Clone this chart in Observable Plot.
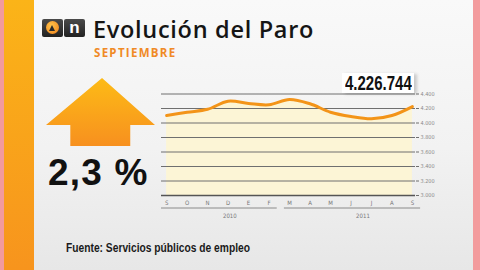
<!DOCTYPE html>
<html>
<head>
<meta charset="utf-8">
<script src="https://cdn.jsdelivr.net/npm/d3@7"></script>
<script src="https://cdn.jsdelivr.net/npm/@observablehq/plot@0.6"></script>
<style>
  html, body { margin: 0; padding: 0; }
  body { width: 480px; height: 270px; overflow: hidden; }
  #stage {
    position: relative; width: 480px; height: 270px; overflow: hidden;
    background: linear-gradient(to bottom, #f9f9f9 0%, #f2f2f2 55%, #e7e7e7 100%);
    font-family: "Open Sans", "Liberation Sans", sans-serif;
  }
  .abs { position: absolute; }
  #pink-l { left: 0; top: 0; width: 4px; height: 270px; background: #f29a9d; }
  #orange-l { left: 4px; top: 0; width: 30px; height: 270px; background: linear-gradient(to bottom, #fbb418, #f7941d); }
  #pink-r { left: 473px; top: 0; width: 7px; height: 270px; background: #f39b9d; }
  #logo1, #logo2 { top: 19px; width: 21px; height: 18px; border-radius: 2px; background: linear-gradient(to bottom, #4a4a4a, #222); }
  #logo1 { left: 42px; }
  #logo2 { left: 64px; color: #fff; font: bold 17px/18px "Liberation Sans", sans-serif; text-align: center; }
  #logo1 .c { position: absolute; left: 4px; top: 2px; width: 13px; height: 13px; border-radius: 50%; background: radial-gradient(circle at 40% 35%, #ffc34a, #f0801a); }
  #logo1 .t { position: absolute; left: 7px; top: 6px; width: 0; height: 0; border-left: 3.5px solid transparent; border-right: 3.5px solid transparent; border-bottom: 6px solid #2a2a2a; }
  #title { left: 93px; top: 13px; font-size: 23.5px; font-weight: 600; color: #151515; white-space: nowrap; letter-spacing: 0.7px; }
  #subtitle { left: 94px; top: 45px; font-size: 11.5px; font-weight: 700; color: #f08a26; white-space: nowrap; letter-spacing: 1.3px; }
  #arrow { left: 46px; top: 78px; width: 109px; height: 68px;
    background: linear-gradient(to bottom, #fdbb16, #f7901f);
    clip-path: polygon(51.4% 0%, 100% 69%, 77.3% 69%, 77.3% 100%, 22.3% 100%, 22.3% 69%, 0% 69%); }
  #pct { left: 48px; top: 153px; font: bold 37px/40px "Liberation Sans", sans-serif; color: #111; white-space: nowrap; letter-spacing: 1.2px; }
  #source { left: 66px; top: 240px; font: bold 12.5px/16px "Liberation Sans", sans-serif; color: #1a1a1a; white-space: nowrap;
    transform: scaleX(0.82); transform-origin: 0 0; }
  #big { left: 342px; top: 73px; width: 72px; height: 20px; background: #fff; box-shadow: 3px 1px 3px rgba(0,0,0,0.18); overflow: visible; }
  #big span { position: absolute; left: 3px; top: -1px; font: bold 19.5px/22px "Liberation Sans", sans-serif; color: #111; white-space: nowrap;
    transform: scaleX(0.77); transform-origin: 0 0; }
  #chart { left: 0; top: 0; }
</style>
</head>
<body>
<div id="stage">
  <div class="abs" id="pink-l"></div>
  <div class="abs" id="orange-l"></div>
  <div class="abs" id="pink-r"></div>
  <div class="abs" id="chart"></div>
  <div class="abs" id="logo1"><div class="c"></div><div class="t"></div></div>
  <div class="abs" id="logo2">n</div>
  <div class="abs" id="title">Evolución del Paro</div>
  <div class="abs" id="subtitle">SEPTIEMBRE</div>
  <div class="abs" id="arrow"></div>
  <div class="abs" id="pct">2,3 %</div>
  <div class="abs" id="big"><span></span></div>
  <div class="abs" id="source">Fuente: Servicios públicos de empleo</div>
</div>
<script>
// Data
const months = ["S", "O", "N", "D", "E", "F", "M", "A", "M", "J", "J", "A", "S"];
const paro = [4103, 4148, 4189, 4300, 4269, 4251, 4324, 4265, 4149, 4090, 4058, 4103, 4226.744]; // thousands
const lastValue = 4226744;
const yTicks = [3000, 3200, 3400, 3600, 3800, 4000, 4200, 4400];
const years = ["2010", "2011"];
const yearFrom = [0, 6];
const yearTo = [5, 12];

const loc = d3.formatLocale({decimal: ",", thousands: ".", grouping: [3], currency: ["", "€"]});
const fmt = loc.format(",d");

const data = months.map((m, i) => ({i, m, v: paro[i]}));
const spans = years.map((y, k) => ({year: y, from: yearFrom[k], to: yearTo[k], mid: (yearFrom[k] + yearTo[k]) / 2}));

document.querySelector("#big span").textContent = fmt(lastValue);

const chart = Plot.plot({
  width: 480,
  height: 270,
  marginLeft: 161,
  marginRight: 65,
  marginTop: 93.5,
  marginBottom: 75,
  style: {background: "transparent", fontFamily: "'DejaVu Sans Condensed', sans-serif"},
  x: {domain: [-0.25, 12.15], axis: null, label: null},
  y: {domain: [3000, 4400], axis: null, label: null},
  marks: [
    Plot.areaY(data, {x: "i", y1: 3000, y2: "v", fill: "#fcf5d6", curve: "catmull-rom"}),
    Plot.ruleY(yTicks.filter(t => t > 3000), {stroke: "#6f6f6f", strokeWidth: 1}),
    Plot.ruleY([3000], {stroke: "#555", strokeWidth: 1.5}),
    Plot.axisY({anchor: "right", label: null, ticks: yTicks, tickFormat: fmt, tickSize: 3, tickPadding: 2, fontSize: 5.5, color: "#8a8a8a", stroke: "#6f6f6f"}),
    Plot.axisX({anchor: "bottom", label: null, ticks: d3.range(months.length), tickFormat: i => months[i], tickSize: 0, tickPadding: 5, fontSize: 6, color: "#777"}),
    Plot.ruleY(spans, {y: 3000, x1: d => d.from - 0.25, x2: d => d.to + 0.4, dy: 12.5, stroke: "#8a8a8a", strokeWidth: 1}),
    Plot.text(spans, {x: "mid", y: 3000, text: "year", dy: 21, dx: 12, fontSize: 6, fill: "#777"}),
    Plot.line(data, {x: "i", y: "v", stroke: "#f39419", strokeWidth: 3, curve: "catmull-rom", strokeLinecap: "round"})
  ]
});
document.getElementById("chart").appendChild(chart);
</script>
</body>
</html>
